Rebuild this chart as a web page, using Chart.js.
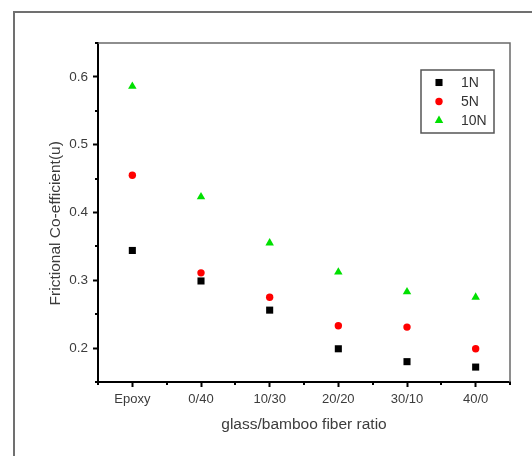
<!DOCTYPE html>
<html>
<head>
<meta charset="utf-8">
<script src="https://cdn.jsdelivr.net/npm/chart.js@4.4.1/dist/chart.umd.min.js"></script>
<style>
  html, body { margin: 0; padding: 0; background: #fff; }
  #wrap { position: relative; width: 532px; height: 456px; overflow: hidden; background: #fff; }
  #frame { position: absolute; left: 13px; top: 11px; width: 600px; height: 600px; border: 2px solid #707070; box-sizing: border-box; }
  #c { position: absolute; left: 0; top: 0; }
</style>
</head>
<body>
<div id="wrap">
  <div id="frame"></div>
  <canvas id="c" width="532" height="456"></canvas>
</div>
<script>
// ---- data ----
const categories = ['Epoxy', '0/40', '10/30', '20/20', '30/10', '40/0'];
const series1N  = [0.344, 0.299, 0.256, 0.199, 0.180, 0.172];
const series5N  = [0.455, 0.311, 0.275, 0.233, 0.231, 0.199];
const series10N = [0.586, 0.423, 0.355, 0.312, 0.283, 0.275];
const seriesLabels = ['1N', '5N', '10N'];
const yTicks = [0.2, 0.3, 0.4, 0.5, 0.6];
const yMinorTicks = [0.15, 0.25, 0.35, 0.45, 0.55, 0.65];
const yMin = 0.15, yMax = 0.65;
const xTitle = 'glass/bamboo fiber ratio';
const yTitle = 'Frictional Co-efficient(u)';

const FONT = "'Liberation Sans', Arial, sans-serif";
const TEXT = '#3c3c3c';

const extrasPlugin = {
  id: 'extras',
  afterDraw(chart) {
    const ctx = chart.ctx;
    const a = chart.chartArea;
    const xs = chart.scales.x, ys = chart.scales.y;
    ctx.save();
    // top and right frame of plot
    ctx.strokeStyle = '#6a6a6a';
    ctx.lineWidth = 1.5;
    ctx.beginPath();
    ctx.moveTo(a.left, a.top); ctx.lineTo(a.right, a.top); ctx.lineTo(a.right, a.bottom);
    ctx.stroke();
    // minor ticks
    ctx.strokeStyle = '#000';
    ctx.lineWidth = 2;
    ctx.beginPath();
    yMinorTicks.forEach(v => {
      const y = Math.round(ys.getPixelForValue(v));
      ctx.moveTo(a.left, y); ctx.lineTo(a.left - 3, y);
    });
    for (let i = 0; i <= categories.length; i++) {
      const x = Math.round(xs.getPixelForValue(i - 0.5));
      ctx.moveTo(x, a.bottom); ctx.lineTo(x, a.bottom + 3);
    }
    ctx.stroke();
    // legend
    const bx = 421, by = 70, bw = 73, bh = 63;
    ctx.fillStyle = '#fff';
    ctx.fillRect(bx, by, bw, bh);
    ctx.strokeStyle = '#555';
    ctx.lineWidth = 1.5;
    ctx.strokeRect(bx, by, bw, bh);
    chart.data.datasets.forEach((ds, i) => {
      const cy = by + 12.5 + i * 19;
      ctx.save();
      ctx.fillStyle = ds.backgroundColor;
      Chart.helpers.drawPoint(ctx, {
        pointStyle: ds.pointStyle, radius: ds.pointRadius, rotation: 0, borderWidth: 0
      }, bx + 18, cy);
      ctx.restore();
      ctx.fillStyle = '#333';
      ctx.font = '14px ' + FONT;
      ctx.textBaseline = 'middle';
      ctx.textAlign = 'left';
      ctx.fillText(ds.label, bx + 40, cy + 1);
    });
    ctx.restore();
  }
};

const mk = (label, data, color, style, r) => ({
  label, data,
  showLine: false,
  backgroundColor: color,
  borderColor: color,
  pointBackgroundColor: color,
  pointBorderWidth: 0,
  pointStyle: style,
  pointRadius: r,
  pointHoverRadius: r
});

new Chart(document.getElementById('c'), {
  type: 'line',
  data: {
    labels: categories,
    datasets: [
      mk(seriesLabels[0], series1N, '#000000', 'rect', 5),
      mk(seriesLabels[1], series5N, '#ff0000', 'circle', 3.7),
      mk(seriesLabels[2], series10N, '#00e000', 'triangle', 4.9)
    ]
  },
  options: {
    responsive: false,
    animation: false,
    devicePixelRatio: 1,
    layout: { padding: { top: 43, right: 22, left: 0, bottom: 0 } },
    plugins: { legend: { display: false }, tooltip: { enabled: false } },
    scales: {
      x: {
        type: 'category',
        offset: true,
        afterFit: s => { s.height = 74; },
        grid: { offset: false, drawOnChartArea: false, drawTicks: true, tickLength: 5, tickColor: '#000', tickWidth: 2 },
        border: { display: true, color: '#000', width: 2 },
        ticks: { color: TEXT, font: { family: FONT, size: 13 }, padding: 5, maxRotation: 0 },
        title: { display: true, text: xTitle, color: TEXT, font: { family: FONT, size: 15.5 }, padding: { top: 0, bottom: 22 } }
      },
      y: {
        type: 'linear',
        min: yMin, max: yMax,
        afterFit: s => { s.width = 98; },
        afterBuildTicks: s => { s.ticks = yTicks.map(v => ({ value: v })); },
        grid: { drawOnChartArea: false, drawTicks: true, tickLength: 5, tickColor: '#000', tickWidth: 2 },
        border: { display: true, color: '#000', width: 2 },
        ticks: { color: TEXT, font: { family: FONT, size: 13.5 }, padding: 5, callback: v => Number(v).toFixed(1) },
        title: { display: true, text: yTitle + '     ', color: TEXT, font: { family: FONT, size: 15.5 }, padding: { top: 46, bottom: 0 } }
      }
    }
  },
  plugins: [extrasPlugin]
});
</script>
</body>
</html>
